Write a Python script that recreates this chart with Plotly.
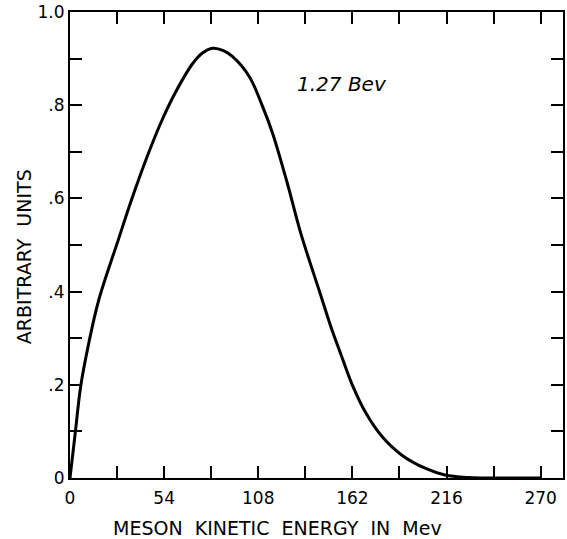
import plotly.graph_objects as go

# Data
energy_mev = [0, 3.2, 6.1, 10.8, 16.5, 27.7, 35.3, 43.9, 51.5, 60, 70.5, 76.0, 81.9,
              88.0, 93.3, 102.9, 110.5, 116.2, 124.7, 132.4, 143.5, 149.8, 156.1,
              161.8, 169.5, 179.0, 190.4, 203.7, 215.1, 228.4, 245, 270]
intensity = [0, 0.103, 0.196, 0.29, 0.382, 0.511, 0.597, 0.686, 0.757, 0.824,
             0.890, 0.912, 0.922, 0.917, 0.904, 0.861, 0.797, 0.74, 0.632, 0.525,
             0.396, 0.323, 0.258, 0.201, 0.141, 0.089, 0.049, 0.021, 0.0064, 0.001,
             0.0, 0.0]

x_tick_vals = [0, 27, 54, 81, 108, 135, 162, 189, 216, 243, 270]
x_tick_text = ["0", "", "54", "", "108", "", "162", "", "216", "", "270"]
y_tick_vals = [0, 0.1, 0.2, 0.3, 0.4, 0.5, 0.6, 0.7, 0.8, 0.9, 1.0]
y_tick_text = ["0", "", ".2", "", ".4", "", ".6", "", ".8", "", "1.0"]

FONT = "DejaVu Sans"
W, H = 567, 539
L, R, T, B = 70, 2, 12, 61
PW, PH = W - L - R, H - T - B


def px_to_paper(px, py):
    return (px - L) / PW, (H - B - py) / PH


fig = go.Figure()
fig.add_trace(go.Scatter(
    x=energy_mev, y=intensity, mode="lines",
    line=dict(color="black", width=3, shape="spline", smoothing=1.0),
    showlegend=False, hoverinfo="skip",
))

tx, ty = px_to_paper(278, 528)
yx, yy = px_to_paper(24, 257)

fig.update_layout(
    width=W, height=H,
    margin=dict(l=L, r=R, t=T, b=B),
    paper_bgcolor="white", plot_bgcolor="white",
    font=dict(family=FONT, color="black", size=16),
    xaxis=dict(
        range=[0, 282.8], tickmode="array", tickvals=x_tick_vals, ticktext=x_tick_text,
        ticks="inside", ticklen=12, tickwidth=1.5, tickcolor="black",
        showline=True, linecolor="black", linewidth=2, mirror="allticks",
        showgrid=False, zeroline=False, tickfont=dict(size=17), ticklabelstandoff=4,
    ),
    yaxis=dict(
        range=[0, 1.0], tickmode="array", tickvals=y_tick_vals, ticktext=y_tick_text,
        ticks="inside", ticklen=12, tickwidth=1.5, tickcolor="black",
        showline=True, linecolor="black", linewidth=2, mirror="allticks",
        showgrid=False, zeroline=False, tickfont=dict(size=17),
    ),
    annotations=[
        dict(text="1.27 Bev", x=156, y=0.845, xref="x", yref="y", showarrow=False,
             xanchor="center", yanchor="middle",
             font=dict(size=20, family=FONT, style="italic")),
        dict(text="MESON  KINETIC  ENERGY  IN  Mev", x=tx, y=ty, xref="paper", yref="paper",
             xanchor="center", yanchor="middle", showarrow=False,
             font=dict(size=19, family=FONT)),
        dict(text="ARBITRARY  UNITS", x=yx, y=yy, xref="paper", yref="paper", textangle=-90,
             xanchor="center", yanchor="middle", showarrow=False,
             font=dict(size=19, family=FONT)),
    ],
)

fig.write_html("out.html")
